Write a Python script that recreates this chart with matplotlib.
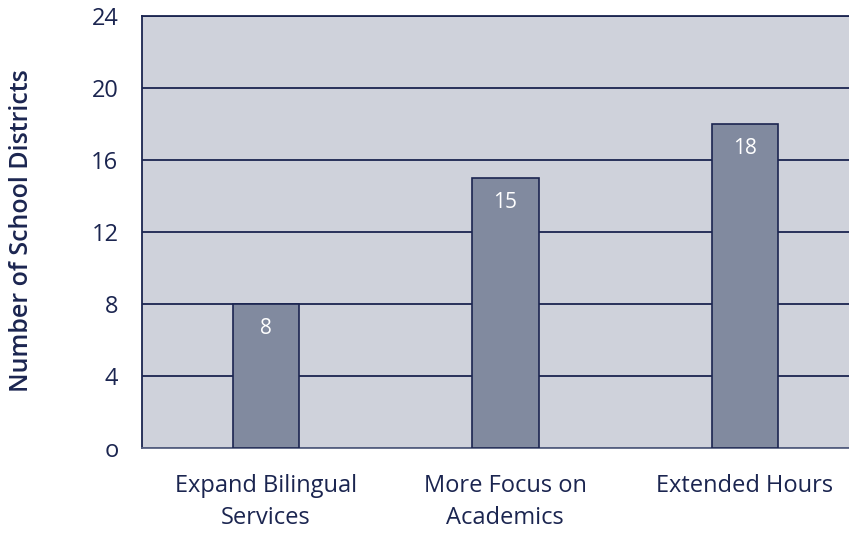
import matplotlib.pyplot as plt

categories = ["Expand Bilingual\nServices", "More Focus on\nAcademics", "Extended Hours"]
values = [8, 15, 18]
yticks = [0, 4, 8, 12, 16, 20, 24]
ytick_labels = ["o", "4", "8", "12", "16", "20", "24"]

navy = "#1b2550"
plt.rcParams["font.family"] = ["Open Sans", "DejaVu Sans"]

fig = plt.figure(figsize=(8.49, 5.33), dpi=100)
ax = fig.add_axes([142 / 849, (533 - 448) / 533, 1 - 142 / 849 + 0.01, (448 - 16) / 533])
ax.set_facecolor("#cfd2db")

x = range(len(values))
ax.bar(x, values, width=0.277, color="#818a9f", edgecolor=navy, linewidth=1.2, zorder=3)
for i, v in zip(x, values):
    ax.text(i, v - 0.75, str(v), ha="center", va="top", color="white", fontsize=15, zorder=4)

ax.set_ylim(0, 24)
ax.set_xlim(-0.517, 2.47)
ax.set_yticks(yticks)
ax.set_yticklabels(ytick_labels)
ax.yaxis.grid(True, color=navy, linewidth=1.3, zorder=1)
ax.set_axisbelow(True)
ax.tick_params(axis="y", length=0, pad=17, labelsize=17, labelcolor=navy)
ax.tick_params(axis="x", length=0, pad=19, labelsize=17, labelcolor=navy)
ax.set_xticks(list(x))
ax.set_xticklabels(categories, linespacing=1.45)

ax.spines["right"].set_visible(False)
ax.spines["top"].set_color(navy)
ax.spines["left"].set_color(navy)
ax.spines["bottom"].set_color("#5a6484")
for s in ["top", "left", "bottom"]:
    ax.spines[s].set_linewidth(1.3)

fig.text(22 / 849, 1 - 231 / 533, "Number of School Districts", rotation=90,
         ha="center", va="center", fontsize=18, fontweight="semibold", color=navy)

fig.savefig("out.png", dpi=100)
